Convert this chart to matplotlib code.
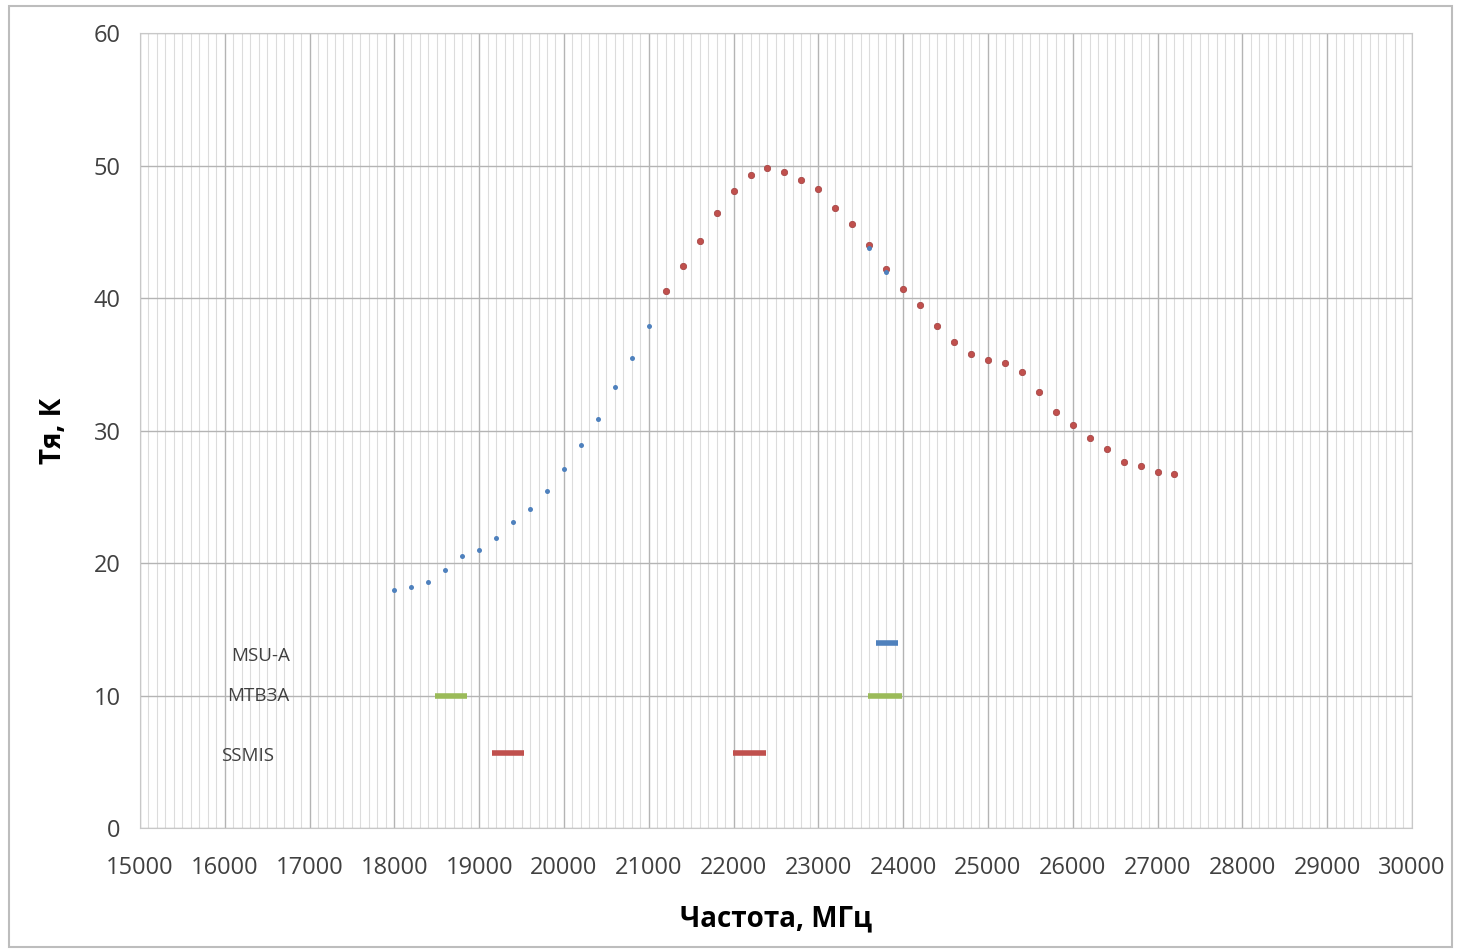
import matplotlib.pyplot as plt
from matplotlib.patches import Rectangle
from matplotlib.ticker import MultipleLocator

plt.rcParams['font.family'] = ['Open Sans', 'DejaVu Sans']

# blue series (low-frequency branch)
freq_blue = [18000, 18200, 18400, 18600, 18800, 19000, 19200, 19400, 19600, 19800,
             20000, 20200, 20400, 20600, 20800, 21000, 23600, 23800]
tb_blue = [18.0, 18.2, 18.6, 19.5, 20.5, 21.0, 21.9, 23.1, 24.1, 25.4,
           27.1, 28.9, 30.9, 33.3, 35.5, 37.9, 43.8, 42.0]

# red series (line peak)
freq_red = [21200, 21400, 21600, 21800, 22000, 22200, 22400, 22600, 22800, 23000,
            23200, 23400, 23600, 23800, 24000, 24200, 24400, 24600, 24800, 25000,
            25200, 25400, 25600, 25800, 26000, 26200, 26400, 26600, 26800, 27000, 27200]
tb_red = [40.5, 42.4, 44.3, 46.4, 48.1, 49.3, 49.8, 49.5, 48.9, 48.2,
          46.8, 45.6, 44.0, 42.2, 40.7, 39.5, 37.9, 36.7, 35.8, 35.3,
          35.1, 34.4, 32.9, 31.4, 30.4, 29.4, 28.6, 27.6, 27.3, 26.9, 26.7]

# instrument channel bands: (start, end) MHz
msu_bands = [(23680, 23940)]
mtvza_bands = [(18480, 18860), (23590, 23990)]
ssmis_bands = [(19150, 19530), (21990, 22380)]
band_levels = {'MSU-A': 14.0, 'МТВЗА': 10.0, 'SSMIS': 5.7}
label_levels = {'MSU-A': 13.0, 'МТВЗА': 10.0, 'SSMIS': 5.4}
label_x = {'MSU-A': 16080, 'МТВЗА': 16030, 'SSMIS': 15960}

blue = '#4F81BD'
red = '#C0504D'
green = '#9BBB59'

fig = plt.figure(figsize=(14.58, 9.51), dpi=100)
ax = fig.add_axes([0.096, 0.1293, 0.8724, 0.836])

ax.set_xlim(15000, 30000)
ax.set_ylim(0, 60)
ax.xaxis.set_major_locator(MultipleLocator(1000))
ax.xaxis.set_minor_locator(MultipleLocator(100))
ax.yaxis.set_major_locator(MultipleLocator(10))

ax.grid(which='major', axis='both', color='#b4b4b4', linewidth=1.0)
ax.grid(which='minor', axis='x', color='#dcdcdc', linewidth=0.8)
ax.set_axisbelow(True)
for s in ax.spines.values():
    s.set_color('#c8c8c8')
ax.tick_params(which='both', length=0, labelsize=17, colors='#404040', pad=14)
ax.tick_params(axis='x', pad=20)

ax.plot(freq_red, tb_red, 'o', color=red, markersize=4.6, markeredgecolor='#a04040', markeredgewidth=0.5)
ax.plot(freq_blue, tb_blue, 'o', color=blue, markersize=3.6, markeredgewidth=0)

for x0, x1 in msu_bands:
    ax.plot([x0, x1], [band_levels['MSU-A']] * 2, color=blue, linewidth=4, solid_capstyle='butt')
for x0, x1 in mtvza_bands:
    ax.plot([x0, x1], [band_levels['МТВЗА']] * 2, color=green, linewidth=4, solid_capstyle='butt')
for x0, x1 in ssmis_bands:
    ax.plot([x0, x1], [band_levels['SSMIS']] * 2, color=red, linewidth=4, solid_capstyle='butt')

for name in ['MSU-A', 'МТВЗА', 'SSMIS']:
    ax.text(label_x[name], label_levels[name], name, fontsize=13.5, color='#404040',
            ha='left', va='center')

ax.set_xlabel('Частота, МГц', fontsize=20, fontweight='bold', labelpad=18)
ax.set_ylabel('Тя, К', fontsize=20, fontweight='bold', labelpad=18)

# outer chart frame
fig.patches.append(Rectangle((0.006, 0.004), 0.99, 0.99, transform=fig.transFigure,
                             fill=False, edgecolor='#bdbdbd', linewidth=1.5))

fig.savefig('out.png', dpi=100)
